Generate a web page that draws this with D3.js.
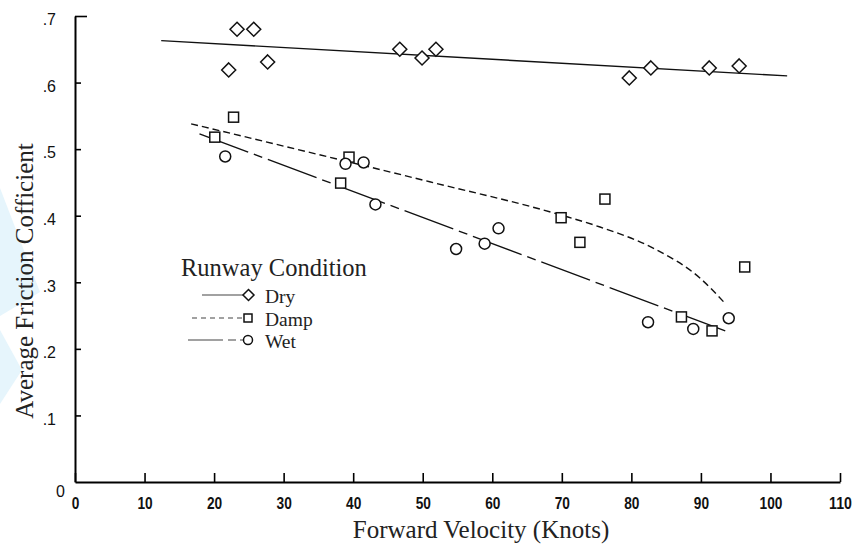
<!DOCTYPE html>
<html><head><meta charset="utf-8">
<script src="https://cdn.jsdelivr.net/npm/d3@7/dist/d3.min.js"></script>
<style>
body{margin:0;background:#fff;}
svg{display:block;}
</style></head>
<body>
<svg id="chart" width="859" height="550"></svg>
<script>
// ---- data ----
const xTicks = [0,10,20,30,40,50,60,70,80,90,100,110];
const yTicks = [0,0.1,0.2,0.3,0.4,0.5,0.6,0.7];
const yTickLabels = ["0",".1",".2",".3",".4",".5",".6",".7"];

const dryX = [22.1,23.3,25.7,27.7,46.7,49.9,51.9,79.7,82.8,91.2,95.5];
const dryY = [0.619,0.680,0.680,0.631,0.650,0.637,0.650,0.607,0.622,0.622,0.625];

const dampX = [22.8,20.1,39.4,38.2,69.9,76.2,72.6,96.3,87.2,91.6];
const dampY = [0.548,0.518,0.488,0.449,0.397,0.425,0.360,0.323,0.248,0.227];

const wetX = [21.6,38.9,41.5,43.2,54.8,58.9,60.9,82.4,88.9,94.0];
const wetY = [0.489,0.478,0.480,0.417,0.350,0.358,0.381,0.240,0.230,0.246];

// fitted curves as drawn in the reference
const dryFitX = [12.4,102.4];
const dryFitY = [0.663,0.610];
const dampFitX = [16.7,39.3,51.0,69.9,75.5,83.2,89.9,93.5];
const dampFitY = [0.538,0.481,0.451,0.401,0.383,0.351,0.306,0.268];
const wetFitX = [17.9,93.5];
const wetFitY = [0.523,0.227];

const legendLabels = ["Dry","Damp","Wet"];

// ---- drawing ----
const svg = d3.select("#chart");
const x = d3.scaleLinear().domain([0,110]).range([75,840]);
const y = d3.scaleLinear().domain([0,0.7]).range([482,16]);
const SERIF = "'Liberation Serif','Times New Roman',serif";

// faint watermark shapes at left edge
svg.append("polygon").attr("points","0,188 40,292 0,316").attr("fill","#e6f5fc");
svg.append("polygon").attr("points","0,330 22,370 0,404").attr("fill","#e6f5fc");

const zip = (a,b)=>a.map((v,i)=>[v,b[i]]);
const line = d3.line().x(d=>x(d[0])).y(d=>y(d[1]));

// axes
const xAxis = d3.axisBottom(x).tickValues(xTicks).tickSizeInner(-9).tickSizeOuter(0).tickPadding(16);
const gx = svg.append("g").attr("transform",`translate(0,${y(0)})`).call(xAxis);
gx.select(".domain").attr("stroke","#000").attr("stroke-width",2);
gx.selectAll(".tick line").attr("stroke","#000").attr("stroke-width",1.6);
gx.selectAll(".tick text").attr("font-family","'Liberation Sans',Arial,sans-serif")
  .attr("font-weight","bold").attr("font-size",16).attr("fill","#111")
  .attr("textLength",d=>String(d).length*7.6).attr("lengthAdjust","spacingAndGlyphs");

const yAxis = d3.axisLeft(y).tickValues(yTicks).tickSizeInner(-6).tickSizeOuter(0).tickPadding(20)
  .tickFormat((d,i)=>yTickLabels[i]);
const gy = svg.append("g").attr("transform",`translate(${x(0)},0)`).call(yAxis);
gy.select(".domain").attr("stroke","#000").attr("stroke-width",2);
gy.selectAll(".tick line").attr("stroke","#000").attr("stroke-width",1.6)
  .attr("x2",(d)=>d===0.7?12:6).attr("opacity",d=>d===0?0:1);
gy.selectAll(".tick text").attr("font-family","'Liberation Sans',Arial,sans-serif")
  .attr("font-size",16).attr("fill","#111").attr("dy",d=>d===0?"0.9em":"0.55em")
  .attr("x",d=>d===0?-10:-19);

// axis titles
svg.append("text").attr("x",481).attr("y",538).attr("text-anchor","middle")
  .attr("font-family",SERIF).attr("font-size",25)
  .attr("fill","#222").text("Forward Velocity (Knots)");
svg.append("text").attr("transform","translate(33,281) rotate(-90)").attr("text-anchor","middle")
  .attr("font-family",SERIF).attr("font-size",25)
  .attr("fill","#222").text("Average Friction Cofficient");

// fitted lines
svg.append("path").attr("d",line(zip(dryFitX,dryFitY))).attr("fill","none")
  .attr("stroke","#111").attr("stroke-width",1.4);
svg.append("path").attr("d",line.curve(d3.curveMonotoneX)(zip(dampFitX,dampFitY))).attr("fill","none")
  .attr("stroke","#111").attr("stroke-width",1.4).attr("stroke-dasharray","7,4");
line.curve(d3.curveLinear);
svg.append("path").attr("d",line(zip(wetFitX,wetFitY))).attr("fill","none")
  .attr("stroke","#111").attr("stroke-width",1.4).attr("stroke-dasharray","52,6,9,6");

// markers
const diamond = (cx,cy,r)=>`M${cx},${cy-r}L${cx+r},${cy}L${cx},${cy+r}L${cx-r},${cy}Z`;
const mk = {stroke:"#111","stroke-width":1.5,fill:"#fff"};
function style(sel){ Object.entries(mk).forEach(([k,v])=>sel.attr(k,v)); return sel; }

style(svg.append("g").selectAll("path").data(zip(dryX,dryY)).join("path")
  .attr("d",d=>diamond(x(d[0]),y(d[1]),7)));
style(svg.append("g").selectAll("rect").data(zip(dampX,dampY)).join("rect")
  .attr("x",d=>x(d[0])-5).attr("y",d=>y(d[1])-5).attr("width",10).attr("height",10));
style(svg.append("g").selectAll("circle").data(zip(wetX,wetY)).join("circle")
  .attr("cx",d=>x(d[0])).attr("cy",d=>y(d[1])).attr("r",5.5));

// legend
const lg = svg.append("g");
lg.append("text").attr("x",181).attr("y",276).attr("font-family",SERIF).attr("fill","#222")
  .attr("font-size",24.5).text("Runway Condition");
const rows = [295,318,340];
const baselines = [303,325.5,348];
const lineStarts = [202,192,188];
const dashes = [null,"5,4","35,5,8,4"];
legendLabels.forEach((lab,i)=>{
  const yy = rows[i];
  const p = lg.append("line").attr("x1",lineStarts[i]).attr("x2",243).attr("y1",yy).attr("y2",yy)
    .attr("stroke","#444").attr("stroke-width",1.2);
  if(dashes[i]) p.attr("stroke-dasharray",dashes[i]);
  lg.append("text").attr("x",265).attr("y",baselines[i]).attr("font-family",SERIF)
    .attr("fill","#222").attr("font-size",19.5).text(lab);
});
style(lg.append("path").attr("d",diamond(248.5,295,5.5)));
style(lg.append("rect").attr("x",244).attr("y",314).attr("width",8).attr("height",8));
style(lg.append("circle").attr("cx",248).attr("cy",340).attr("r",4.5));
</script>
</body></html>
